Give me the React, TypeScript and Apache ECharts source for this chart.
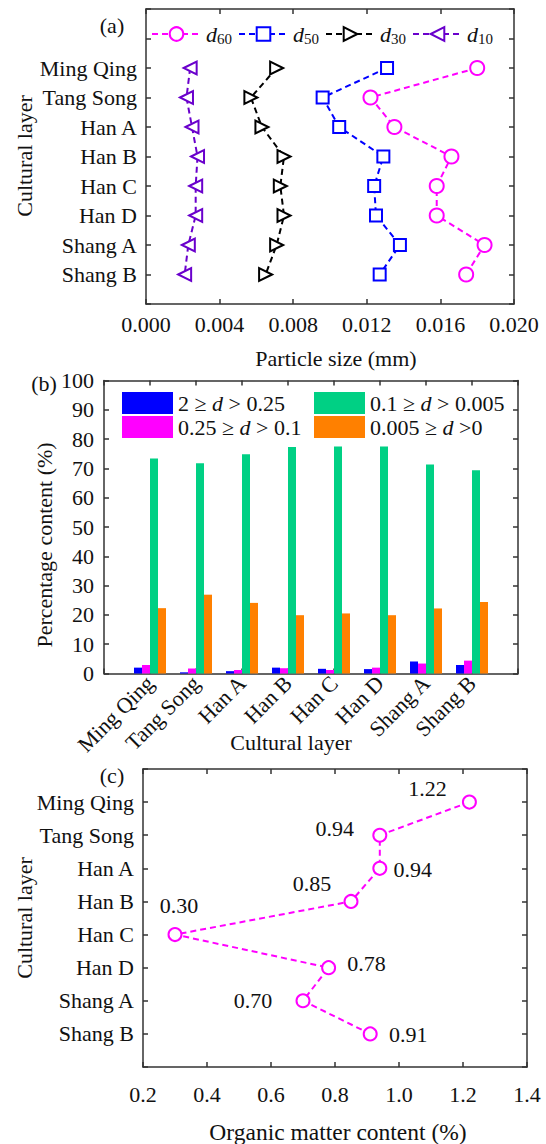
import React, { useEffect, useRef } from 'react';
import * as echarts from 'echarts';

// ---------- data ----------
const layers = ['Ming Qing', 'Tang Song', 'Han A', 'Han B', 'Han C', 'Han D', 'Shang A', 'Shang B'];

// (a) characteristic particle sizes (mm)
const d60 = [0.0180, 0.0122, 0.0135, 0.0166, 0.0158, 0.0158, 0.0184, 0.0174];
const d50 = [0.0131, 0.0096, 0.0105, 0.0129, 0.0124, 0.0125, 0.0138, 0.0127];
const d30 = [0.0071, 0.0057, 0.0063, 0.0075, 0.0073, 0.0075, 0.0071, 0.0065];
const d10 = [0.0024, 0.0022, 0.0025, 0.0028, 0.0027, 0.0027, 0.0023, 0.0021];

// (b) percentage content (%)
const fraction1 = [2.0, 0.4, 0.8, 2.0, 1.6, 1.5, 4.1, 2.9]; // 2 ≥ d > 0.25
const fraction2 = [2.9, 1.7, 1.2, 1.8, 1.2, 2.0, 3.4, 4.4]; // 0.25 ≥ d > 0.1
const fraction3 = [73.4, 71.8, 74.8, 77.3, 77.5, 77.5, 71.3, 69.4]; // 0.1 ≥ d > 0.005
const fraction4 = [22.3, 26.9, 24.1, 19.9, 20.5, 19.9, 22.2, 24.4]; // 0.005 ≥ d >0
const fractionNames = ['2 ≥ d > 0.25', '0.25 ≥ d > 0.1', '0.1 ≥ d > 0.005', '0.005 ≥ d >0'];

// (c) organic matter content (%)
const organic = [1.22, 0.94, 0.94, 0.85, 0.30, 0.78, 0.70, 0.91];

// ---------- styles ----------
const FONT = '"Liberation Serif", "Times New Roman", serif';
const TXT = '#111';
const AX = '#333';
const labelOffsets: [number, number][] = [
  [-42, -14], [-45, -7], [33, 1], [-39, -18], [4, -29], [38, -4], [-50, 0], [38, 1],
];

const n = layers.length;
const layerPos = (i: number) => n - i; // Ming Qing at top

function axisBase(grid: number, extra: any) {
  return {
    gridIndex: grid,
    type: 'value',
    axisLine: { show: true, onZero: false, lineStyle: { color: AX, width: 1.5 } },
    axisTick: { show: true, inside: true, length: 5, lineStyle: { color: AX, width: 1.5 } },
    splitLine: { show: false },
    axisLabel: { color: TXT, fontSize: 22, fontFamily: FONT, margin: 9 },
    ...extra,
  };
}

export default function App() {
  const ref = useRef<HTMLDivElement>(null);
  useEffect(() => {
    if (!ref.current) return;
    const chart = echarts.init(ref.current, undefined, { renderer: 'svg' });

    const layerLabelA = (v: number) => (v >= 1 && v <= n ? layers[n - v] : '');
    const layerLabelB = (v: number) => (v >= 1 && v <= n ? layers[v - 1] : '');

    const grids = [
      { left: 146, top: 9, width: 368, height: 295 },
      { left: 104, top: 380.5, width: 414, height: 293 },
      { left: 143, top: 769, width: 384, height: 298 },
    ];

    const xAxis: any[] = [
      axisBase(0, { min: 0, max: 0.02, interval: 0.004, axisLabel: { color: TXT, fontSize: 22, fontFamily: FONT, margin: 9, formatter: (v: number) => v.toFixed(3) } }),
      axisBase(0, { position: 'top', min: 0, max: 0.02, interval: 0.004, axisLabel: { show: false } }),
      axisBase(1, { min: 0, max: 9, interval: 1, axisLabel: { color: TXT, fontSize: 22, fontFamily: FONT, margin: 6, rotate: 45, formatter: layerLabelB } }),
      axisBase(1, { position: 'top', min: 0, max: 9, interval: 1, axisLabel: { show: false } }),
      axisBase(2, { min: 0.2, max: 1.4, interval: 0.2, axisLabel: { color: TXT, fontSize: 22, fontFamily: FONT, margin: 16, formatter: (v: number) => v.toFixed(1) } }),
      axisBase(2, { position: 'top', min: 0.2, max: 1.4, interval: 0.2, axisLabel: { show: false } }),
    ];
    const yAxis: any[] = [
      axisBase(0, { min: 0, max: 10, interval: 1, axisLabel: { color: TXT, fontSize: 22, fontFamily: FONT, margin: 9, formatter: layerLabelA } }),
      axisBase(0, { position: 'right', min: 0, max: 10, interval: 1, axisLabel: { show: false } }),
      axisBase(1, { min: 0, max: 100, interval: 10, axisLabel: { color: TXT, fontSize: 22, fontFamily: FONT, margin: 10 } }),
      axisBase(1, { position: 'right', min: 0, max: 100, interval: 10, axisLabel: { show: false } }),
      axisBase(2, { min: 0, max: 9, interval: 1, axisLabel: { color: TXT, fontSize: 22, fontFamily: FONT, margin: 9, formatter: layerLabelA } }),
      axisBase(2, { position: 'right', min: 0, max: 9, interval: 1, axisLabel: { show: false } }),
    ];

    const lineSeries = (name: string, vals: number[], color: string, symbol: string, size: number, rotate: number) => ({
      name,
      type: 'line',
      xAxisIndex: 0,
      yAxisIndex: 0,
      data: vals.map((v, i) => [v, layerPos(i)]),
      symbol,
      symbolSize: size,
      symbolRotate: rotate,
      itemStyle: { color, borderColor: color, borderWidth: 2.5 },
      lineStyle: { color, width: 2, type: [6, 4] },
    });

    const barSeries = (name: string, vals: number[], color: string) => ({
      name,
      type: 'bar',
      xAxisIndex: 2,
      yAxisIndex: 2,
      data: vals.map((v, i) => [i + 1, v]),
      barWidth: 8,
      barGap: '0%',
      itemStyle: { color },
    });

    const legendRich = {
      i: { fontFamily: FONT, fontStyle: 'italic', fontSize: 22, color: TXT },
      t: { fontFamily: FONT, fontSize: 22, color: TXT },
      s: { fontFamily: FONT, fontSize: 15, color: TXT, padding: [9, 0, 0, 0] },
    };
    const fracFormatter = (name: string) =>
      name.split(' d ').map((p) => `{t|${p}}`).join('{t| }{i|d}{t| }');

    const title = (text: string, x: number, y: number, rot = 0, size = 22) => ({
      type: 'text',
      x,
      y,
      rotation: rot,
      style: { text, fontSize: size, fontFamily: FONT, fill: TXT, align: 'center', verticalAlign: 'middle' },
    });

    chart.setOption({
      animation: false,
      backgroundColor: '#fff',
      grid: grids,
      xAxis,
      yAxis,
      legend: [
        {
          data: ['d60', 'd50', 'd30', 'd10'],
          left: 146,
          top: 18,
          itemWidth: 49,
          itemHeight: 17,
          itemGap: 6,
          formatter: (name: string) => `{i|d}{s|${name.slice(1)}}`,
          textStyle: { rich: legendRich },
        },
        {
          data: [fractionNames[0], fractionNames[1]],
          orient: 'vertical',
          left: 117,
          top: 387,
          icon: 'rect',
          itemWidth: 51,
          itemHeight: 22,
          itemGap: 2,
          formatter: fracFormatter,
          textStyle: { rich: legendRich },
        },
        {
          data: [fractionNames[2], fractionNames[3]],
          orient: 'vertical',
          left: 309,
          top: 387,
          icon: 'rect',
          itemWidth: 51,
          itemHeight: 22,
          itemGap: 2,
          formatter: fracFormatter,
          textStyle: { rich: legendRich },
        },
      ],
      series: [
        lineSeries('d60', d60, '#ff00ff', 'emptyCircle', 14, 0),
        lineSeries('d50', d50, '#0000ff', 'emptyRect', 12, 0),
        lineSeries('d30', d30, '#000000', 'emptyTriangle', 13, -90),
        lineSeries('d10', d10, '#6a00cc', 'emptyTriangle', 13, 90),
        barSeries(fractionNames[0], fraction1, '#0000ff'),
        barSeries(fractionNames[1], fraction2, '#ff00ff'),
        barSeries(fractionNames[2], fraction3, '#00d084'),
        barSeries(fractionNames[3], fraction4, '#ff8000'),
        {
          name: 'Organic matter',
          type: 'line',
          xAxisIndex: 4,
          yAxisIndex: 4,
          data: organic.map((v, i) => ({
            value: [v, layerPos(i)],
            label: { offset: labelOffsets[i] },
          })),
          symbol: 'emptyCircle',
          symbolSize: 13,
          itemStyle: { color: '#ff00ff', borderColor: '#ff00ff', borderWidth: 2.5 },
          lineStyle: { color: '#ff00ff', width: 2, type: [6, 4] },
          label: {
            show: true,
            position: 'inside',
            fontSize: 22,
            fontFamily: FONT,
            color: TXT,
            formatter: (p: any) => organic[p.dataIndex].toFixed(2),
          },
        },
      ],
      graphic: [
        title('(a)', 112, 25),
        title('Cultural layer', 24, 156, Math.PI / 2),
        title('Particle size (mm)', 336, 358),
        title('(b)', 44, 383),
        title('Percentage content (%)', 44, 545, Math.PI / 2),
        title('Cultural layer', 291, 742),
        title('(c)', 112, 775),
        title('Cultural layer', 24, 918, Math.PI / 2),
        title('Organic matter content (%)', 338, 1132, 0, 23.5),
      ],
    });
    return () => chart.dispose();
  }, []);

  return (
    <div
      ref={ref}
      style={{ position: 'absolute', left: 0, top: 0, width: 546, height: 1144, background: '#fff' }}
    />
  );
}
